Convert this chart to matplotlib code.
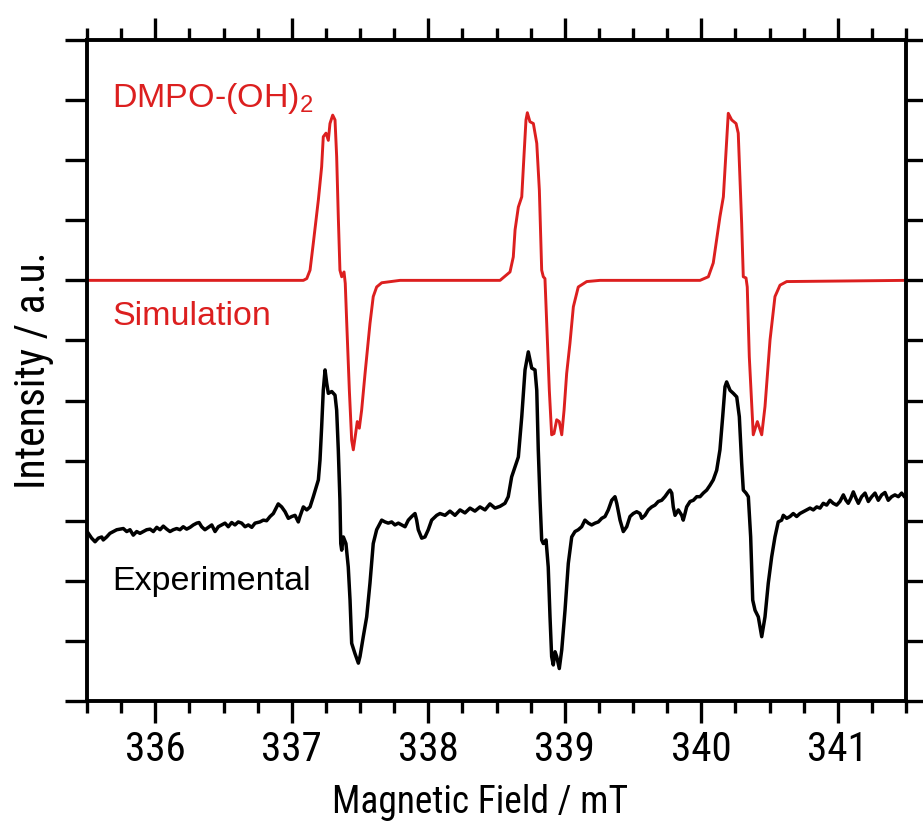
import numpy as np
import matplotlib
matplotlib.use("Agg")
from matplotlib import pyplot as plt
from matplotlib.ticker import MultipleLocator

# narrow face for the axes, regular face for the in-plot captions
narrow = ['Liberation Sans Narrow', 'Arial Narrow', 'Roboto Condensed', 'Archivo Narrow',
          'PT Sans Narrow', 'Liberation Sans', 'DejaVu Sans']
regular = ['Liberation Sans', 'DejaVu Sans']
plt.rcParams['font.family'] = narrow
plt.rcParams['mathtext.fontset'] = 'custom'
plt.rcParams['mathtext.rm'] = 'Liberation Sans'

# Simulated DMPO-(OH)2 spectrum (field in mT, intensity in a.u., offset to 7)
sim_field = [335.500, 337.085, 337.110, 337.134, 337.158, 337.195, 337.219, 337.231,
             337.251, 337.268, 337.280, 337.300, 337.317, 337.329, 337.341, 337.353,
             337.366, 337.383, 337.392, 337.403, 337.422, 337.439, 337.451, 337.468,
             337.480, 337.495, 337.512, 337.537, 337.573, 337.597, 337.622, 337.659,
             337.793,
             338.526, 338.599, 338.623, 338.636, 338.660, 338.685, 338.701, 338.716,
             338.726, 338.745, 338.770, 338.795, 338.814, 338.831, 338.843, 338.855,
             338.868, 338.887, 338.904, 338.921, 338.941, 338.960, 338.978, 338.995,
             339.014, 339.038, 339.063, 339.099, 339.161, 339.258,
             339.991, 340.052, 340.088, 340.137, 340.162, 340.198, 340.223, 340.255,
             340.271, 340.296, 340.308, 340.328, 340.337, 340.352, 340.381, 340.411,
             340.443, 340.467, 340.504, 340.540, 340.577, 340.626, 341.500]
sim_int = [7.00, 7.00, 7.03, 7.17, 7.62, 8.34, 8.89, 9.39,
           9.45, 9.33, 9.61, 9.75, 9.67, 9.06, 8.06, 7.17,
           7.06, 7.14, 6.95, 6.28, 5.17, 4.34, 4.18, 4.45,
           4.65, 4.54, 4.84, 5.45, 6.28, 6.73, 6.89, 6.96,
           7.00,
           7.00, 7.14, 7.39, 7.84, 8.22, 8.39, 9.06, 9.67,
           9.79, 9.64, 9.61, 9.28, 8.50, 7.17, 7.06, 7.03,
           6.28, 5.17, 4.43, 4.45, 4.68, 4.65, 4.43, 4.84,
           5.45, 5.95, 6.56, 6.89, 6.98, 7.00,
           7.00, 7.06, 7.29, 8.06, 8.39, 9.78, 9.67, 9.61,
           9.45, 7.95, 7.06, 7.04, 6.89, 5.73, 4.43, 4.65,
           4.43, 4.90, 6.01, 6.73, 6.92, 6.98, 7.00]

# Measured spectrum (field in mT, intensity in a.u., offset to about 3)
exp_field = [335.510, 335.534, 335.559, 335.583, 335.608, 335.619, 335.644, 335.668,
             335.693, 335.718, 335.742, 335.766, 335.791, 335.815, 335.839, 335.864,
             335.888, 335.912, 335.937, 335.962, 335.986, 336.011, 336.035, 336.059,
             336.084, 336.108, 336.132, 336.157, 336.181, 336.205, 336.230, 336.255,
             336.279, 336.304, 336.321, 336.340, 336.364, 336.389, 336.414, 336.438,
             336.462, 336.487, 336.511, 336.535, 336.560, 336.584, 336.608, 336.633,
             336.658, 336.682, 336.707, 336.731, 336.767, 336.792, 336.816, 336.841,
             336.865, 336.901, 336.926, 336.951, 336.975, 337.000, 337.024, 337.048,
             337.060, 337.085, 337.110, 337.134, 337.158, 337.195, 337.207, 337.219,
             337.231, 337.244, 337.256, 337.268, 337.293, 337.317, 337.329, 337.341,
             337.353, 337.359, 337.366, 337.378, 337.397, 337.414, 337.427, 337.439,
             337.463, 337.488, 337.500, 337.524, 337.549, 337.573, 337.597, 337.622,
             337.647, 337.659, 337.683, 337.707, 337.732, 337.756, 337.781, 337.805,
             337.830, 337.854, 337.879, 337.903, 337.915, 337.927, 337.952, 337.976,
             338.000, 338.025, 338.062, 338.086, 338.123, 338.159, 338.196, 338.233,
             338.269, 338.306, 338.342, 338.379, 338.416, 338.452, 338.489, 338.526,
             338.562, 338.586, 338.611, 338.636, 338.660, 338.685, 338.709, 338.733,
             338.758, 338.782, 338.795, 338.806, 338.819, 338.831, 338.843, 338.863,
             338.879, 338.892, 338.904, 338.916, 338.929, 338.941, 338.960, 338.978,
             339.002, 339.026, 339.051, 339.075, 339.099, 339.124, 339.148, 339.173,
             339.197, 339.222, 339.246, 339.271, 339.295, 339.319, 339.344, 339.368,
             339.381, 339.405, 339.429, 339.454, 339.478, 339.502, 339.527, 339.551,
             339.564, 339.588, 339.612, 339.637, 339.661, 339.685, 339.710, 339.734,
             339.759, 339.771, 339.784, 339.795, 339.808, 339.832, 339.857, 339.868,
             339.881, 339.893, 339.918, 339.942, 339.967, 339.991, 340.015, 340.040,
             340.064, 340.088, 340.113, 340.137, 340.157, 340.174, 340.186, 340.211,
             340.235, 340.260, 340.279, 340.296, 340.308, 340.328, 340.345, 340.362,
             340.377, 340.394, 340.418, 340.443, 340.467, 340.491, 340.516, 340.540,
             340.564, 340.589, 340.601, 340.626, 340.650, 340.674, 340.699, 340.723,
             340.748, 340.772, 340.797, 340.821, 340.846, 340.870, 340.894, 340.919,
             340.943, 340.967, 340.992, 341.016, 341.041, 341.060, 341.077, 341.095,
             341.114, 341.134, 341.151, 341.175, 341.200, 341.224, 341.249, 341.273,
             341.297, 341.322, 341.346, 341.370, 341.395, 341.419, 341.444, 341.468,
             341.485]
exp_int = [2.79, 2.71, 2.65, 2.71, 2.73, 2.68, 2.73, 2.79,
           2.82, 2.85, 2.86, 2.87, 2.82, 2.85, 2.76, 2.82,
           2.79, 2.82, 2.85, 2.86, 2.82, 2.89, 2.85, 2.91,
           2.86, 2.82, 2.85, 2.87, 2.85, 2.90, 2.86, 2.89,
           2.93, 2.96, 2.97, 2.90, 2.85, 2.89, 2.93, 2.82,
           2.90, 2.93, 2.96, 2.90, 2.97, 2.93, 2.98, 2.96,
           2.90, 2.93, 2.89, 2.96, 2.98, 3.01, 3.00, 3.07,
           3.12, 3.28, 3.23, 3.15, 3.04, 3.07, 3.09, 2.98,
           3.07, 3.23, 3.18, 3.23, 3.40, 3.68, 4.01, 4.56,
           5.17, 5.51, 5.29, 5.12, 5.15, 5.09, 4.84, 4.18,
           3.34, 2.62, 2.51, 2.73, 2.62, 2.23, 1.68, 0.96,
           0.79, 0.63, 0.74, 1.07, 1.40, 1.96, 2.62, 2.85,
           2.96, 3.01, 2.98, 2.96, 2.98, 2.93, 2.96, 2.93,
           2.90, 3.01, 3.07, 3.12, 3.01, 2.85, 2.71, 2.73,
           2.85, 3.01, 3.09, 3.12, 3.09, 3.16, 3.09, 3.18,
           3.13, 3.21, 3.16, 3.23, 3.18, 3.28, 3.21, 3.24,
           3.29, 3.40, 3.73, 3.90, 4.06, 4.73, 5.51, 5.81,
           5.54, 5.51, 5.17, 4.18, 3.34, 2.68, 2.62, 2.68,
           2.23, 1.40, 0.74, 0.60, 0.82, 0.74, 0.54, 0.85,
           1.51, 2.29, 2.73, 2.82, 2.85, 2.90, 3.01, 2.96,
           2.93, 2.96, 2.98, 3.04, 3.07, 3.18, 3.34, 3.40,
           3.29, 3.01, 2.82, 2.90, 3.07, 3.12, 3.15, 3.12,
           3.04, 3.09, 3.18, 3.23, 3.26, 3.32, 3.34, 3.40,
           3.48, 3.51, 3.46, 3.23, 3.09, 3.18, 3.09, 3.01,
           3.12, 3.23, 3.32, 3.34, 3.40, 3.40, 3.46, 3.51,
           3.59, 3.68, 3.84, 4.18, 4.73, 5.23, 5.31, 5.17,
           5.12, 5.06, 4.73, 3.96, 3.51, 3.46, 3.40, 2.73,
           1.68, 1.51, 1.40, 1.07, 1.40, 1.96, 2.40, 2.73,
           2.98, 3.01, 3.09, 3.04, 3.07, 3.12, 3.07, 3.12,
           3.15, 3.18, 3.21, 3.18, 3.23, 3.21, 3.29, 3.26,
           3.34, 3.29, 3.26, 3.32, 3.43, 3.34, 3.29, 3.37,
           3.48, 3.37, 3.29, 3.40, 3.46, 3.32, 3.40, 3.46,
           3.34, 3.43, 3.47, 3.34, 3.40, 3.43, 3.40, 3.46,
           3.41]

red = '#dc1f1f'

fig = plt.figure(figsize=(9.23, 8.24), dpi=100)
ax = fig.add_axes([87 / 923, 1 - 701 / 824, 819 / 923, 661 / 824])

ax.plot(sim_field, sim_int, color=red, lw=2.1, solid_joinstyle='round')
ax.plot(exp_field, exp_int, color='black', lw=2.5, solid_joinstyle='round')

ax.set_xlim(335.5, 341.5)
ax.set_ylim(0, 11)

# frame and ticks: everything outward, minor steps of 0.25 mT on the field axis
for s in ax.spines.values():
    s.set_linewidth(2.8)
ax.xaxis.set_major_locator(MultipleLocator(1))
ax.xaxis.set_minor_locator(MultipleLocator(0.25))
ax.yaxis.set_major_locator(MultipleLocator(1))
ax.tick_params(axis='x', which='major', direction='out', length=16, width=2.4,
               top=True, labelsize=29.5, pad=5)
ax.tick_params(axis='x', which='minor', direction='out', length=8.5, width=2.4,
               top=True)
ax.tick_params(axis='y', which='major', direction='out', length=16, width=2.4,
               right=True, labelleft=False)

ax.set_xlabel('Magnetic Field / mT', fontsize=27)
ax.xaxis.set_label_coords(0.48, -0.126)
ax.set_ylabel('Intensity / a.u.', fontsize=30, labelpad=8)

ax.text(335.683, 9.88, r'DMPO-(OH)$_\mathregular{2}$', color=red, fontsize=24.5,
        family=regular)
ax.text(335.683, 6.26, 'Simulation', color=red, fontsize=24.5, family=regular)
ax.text(335.683, 1.85, 'Experimental', color='black', fontsize=24.5, family=regular)

fig.savefig('out.png', dpi=100)
